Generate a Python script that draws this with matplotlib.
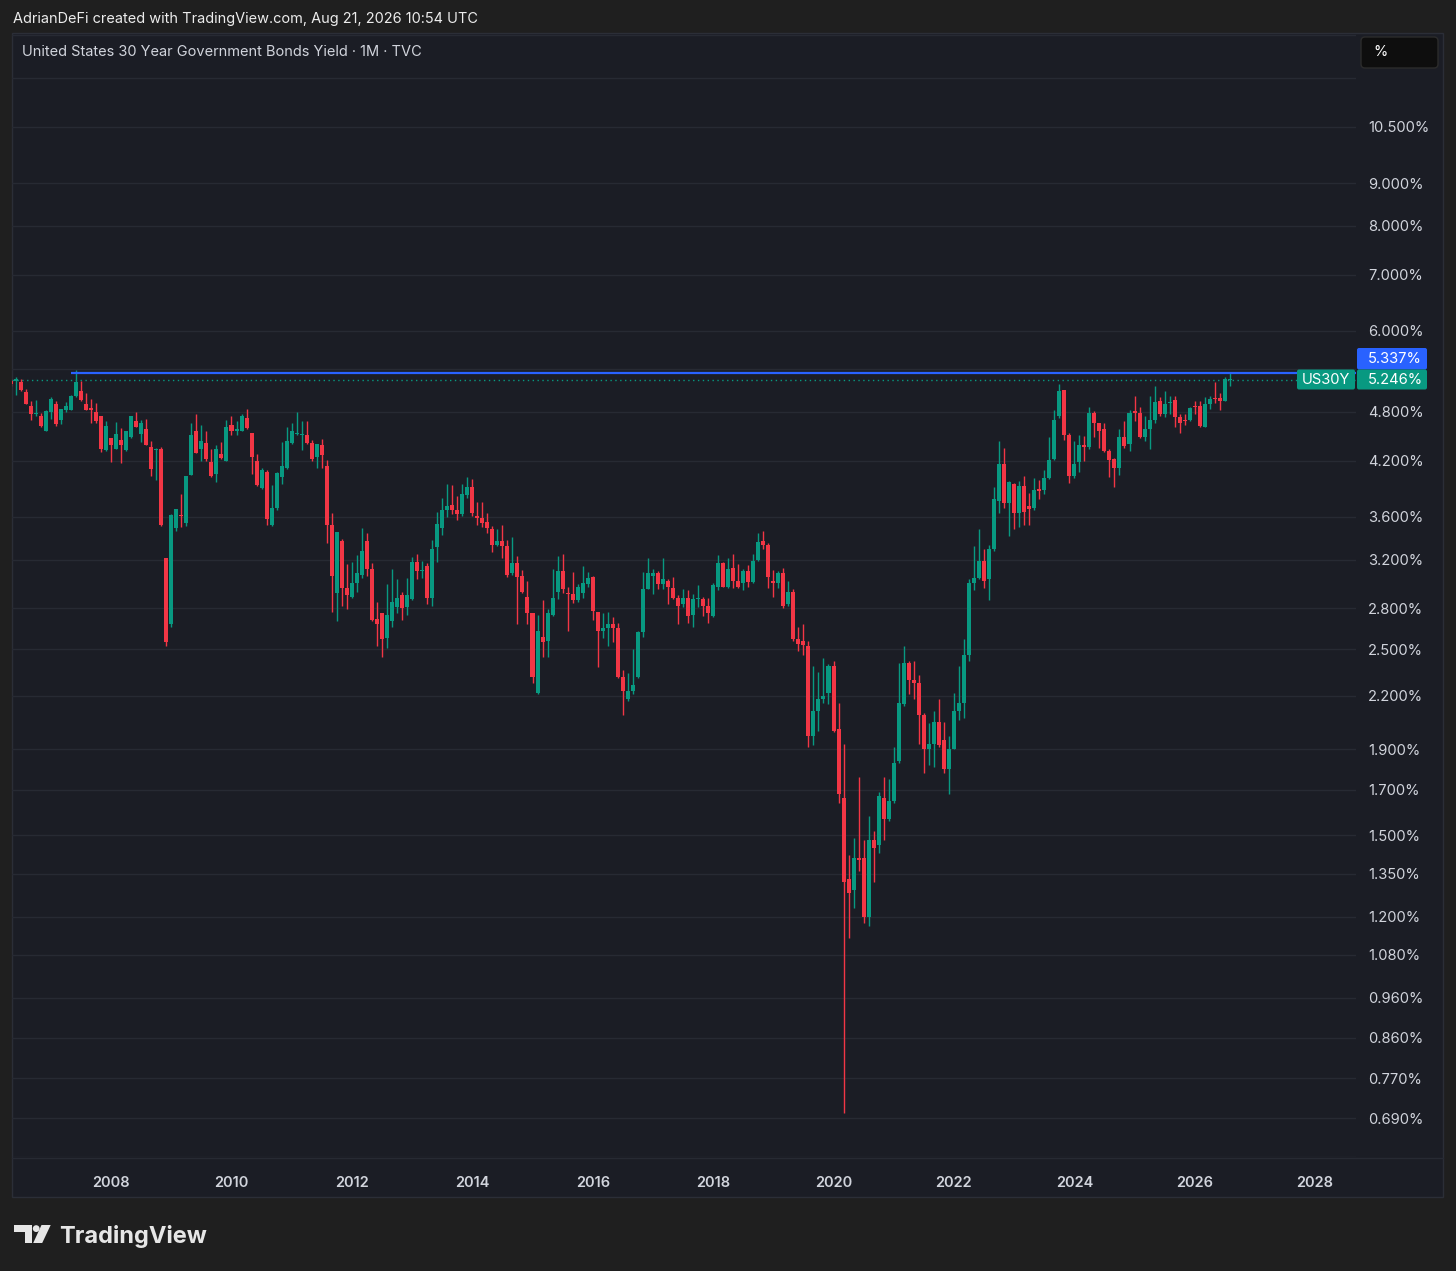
import numpy as np
import pandas as pd
import matplotlib
matplotlib.use('Agg')
import matplotlib.pyplot as plt
from matplotlib.patches import Rectangle, FancyBboxPatch, Polygon, Circle
from matplotlib.ticker import NullLocator

plt.rcParams['font.family'] = ['Inter', 'DejaVu Sans']

# monthly candles of US30Y, May 2006 .. Aug 2026 (yield, %)
first_month = '2006-05-01'
opens = [5.23, 5.23, 5.21, 5.07, 4.88, 4.77, 4.74, 4.56, 4.80, 4.91,
         4.69, 4.83, 4.82, 5.01, 5.09, 4.90, 4.85, 4.80, 4.75, 4.32,
         4.47, 4.33, 4.44, 4.32, 4.48, 4.68, 4.52, 4.58, 4.36, 4.32,
         4.33, 3.21, 2.68, 3.49, 3.62, 3.54, 4.04, 4.55, 4.34, 4.41,
         4.18, 4.05, 4.28, 4.20, 4.63, 4.56, 4.56, 4.72, 4.53, 4.19,
         3.89, 4.07, 3.52, 3.69, 4.01, 4.11, 4.41, 4.52, 4.50, 4.51,
         4.41, 4.24, 4.38, 4.14, 3.52, 2.92, 3.37, 2.96, 2.89, 3.00,
         3.07, 3.37, 3.12, 2.72, 2.76, 2.58, 2.70, 2.81, 2.90, 2.81,
         2.87, 3.18, 3.10, 3.14, 2.88, 3.31, 3.49, 3.67, 3.72, 3.67,
         3.63, 3.82, 3.91, 3.61, 3.59, 3.55, 3.48, 3.33, 3.37, 3.32,
         3.08, 3.17, 3.06, 2.89, 2.76, 2.22, 2.59, 2.56, 2.75, 2.93,
         3.10, 2.92, 2.91, 2.86, 2.92, 2.99, 3.05, 2.77, 2.63, 2.65,
         2.68, 2.65, 2.32, 2.18, 2.23, 2.32, 2.62, 2.95, 3.06, 3.08,
         2.99, 3.02, 2.96, 2.88, 2.83, 2.88, 2.75, 2.87, 2.87, 2.82,
         2.74, 2.97, 3.17, 2.97, 3.13, 3.02, 3.00, 3.10, 3.01, 3.20,
         3.37, 3.33, 3.02, 3.00, 3.08, 2.83, 2.93, 2.57, 2.56, 2.52,
         1.97, 2.11, 2.18, 2.22, 2.39, 2.01, 1.66, 1.33, 1.29, 1.41,
         1.41, 1.20, 1.48, 1.46, 1.66, 1.57, 1.65, 1.84, 2.15, 2.41,
         2.30, 2.28, 2.09, 1.90, 1.93, 2.05, 1.95, 1.80, 1.90, 2.11,
         2.16, 2.46, 3.00, 3.04, 3.19, 3.03, 3.29, 3.76, 4.16, 3.74,
         3.94, 3.64, 3.92, 3.71, 3.69, 3.88, 3.87, 4.00, 4.22, 4.75,
         5.10, 4.50, 4.02, 4.18, 4.38, 4.36, 4.79, 4.65, 4.58, 4.31,
         4.22, 4.11, 4.48, 4.39, 4.81, 4.79, 4.48, 4.58, 4.70, 4.95,
         4.77, 4.92, 4.96, 4.73, 4.69, 4.69, 4.88, 4.88, 4.60, 4.91,
         4.99, 4.98, 4.95, 5.24]
highs = [5.26, 5.28, 5.26, 5.11, 4.94, 4.96, 4.79, 4.82, 5.00, 4.94,
         4.84, 4.93, 5.03, 5.38, 5.23, 5.06, 4.97, 4.92, 4.75, 4.68,
         4.47, 4.67, 4.59, 4.56, 4.75, 4.80, 4.69, 4.71, 4.43, 4.35,
         4.36, 3.21, 3.63, 3.68, 3.83, 4.03, 4.66, 4.77, 4.63, 4.56,
         4.34, 4.38, 4.42, 4.70, 4.74, 4.68, 4.77, 4.84, 4.53, 4.28,
         4.11, 4.09, 3.93, 4.07, 4.42, 4.60, 4.65, 4.80, 4.68, 4.68,
         4.44, 4.39, 4.46, 4.21, 3.64, 3.45, 3.39, 3.16, 3.18, 3.24,
         3.49, 3.44, 3.17, 2.85, 2.76, 2.99, 3.12, 3.03, 2.93, 3.04,
         3.22, 3.25, 3.19, 3.17, 3.38, 3.65, 3.79, 3.94, 3.93, 3.81,
         3.94, 4.01, 3.99, 3.75, 3.75, 3.64, 3.51, 3.48, 3.52, 3.38,
         3.40, 3.23, 3.11, 3.02, 2.76, 2.75, 2.86, 2.79, 3.12, 3.23,
         3.25, 2.97, 3.09, 2.99, 3.14, 3.09, 3.06, 2.77, 2.76, 2.77,
         2.73, 2.69, 2.36, 2.34, 2.50, 2.63, 3.09, 3.21, 3.12, 3.10,
         3.21, 3.03, 3.05, 2.90, 2.95, 2.94, 2.91, 2.98, 2.89, 2.88,
         3.00, 3.24, 3.18, 3.21, 3.25, 3.16, 3.12, 3.15, 3.25, 3.44,
         3.46, 3.35, 3.11, 3.10, 3.13, 3.02, 2.95, 2.66, 2.68, 2.56,
         2.39, 2.35, 2.44, 2.40, 2.42, 2.16, 1.93, 1.42, 1.49, 1.76,
         1.48, 1.58, 1.52, 1.69, 1.76, 1.75, 1.91, 2.41, 2.52, 2.42,
         2.42, 2.33, 2.10, 2.04, 2.11, 2.18, 2.05, 1.97, 2.22, 2.39,
         2.57, 3.03, 3.32, 3.48, 3.29, 3.33, 3.91, 4.43, 4.35, 3.97,
         3.95, 3.97, 4.03, 3.84, 4.00, 3.98, 4.09, 4.48, 4.82, 5.18,
         5.10, 4.53, 4.43, 4.51, 4.49, 4.86, 4.81, 4.66, 4.66, 4.34,
         4.23, 4.58, 4.68, 4.83, 5.02, 4.87, 4.75, 5.02, 5.15, 5.00,
         5.08, 5.01, 5.02, 4.77, 4.77, 4.87, 4.94, 4.94, 5.00, 5.02,
         5.21, 5.06, 5.28, 5.34]
lows = [5.16, 5.03, 5.08, 4.90, 4.69, 4.74, 4.60, 4.55, 4.71, 4.62,
        4.64, 4.80, 4.82, 5.00, 4.95, 4.82, 4.65, 4.66, 4.30, 4.31,
        4.18, 4.33, 4.17, 4.31, 4.47, 4.60, 4.42, 4.38, 4.02, 3.98,
        3.51, 2.52, 2.66, 3.46, 3.50, 3.51, 4.04, 4.29, 4.19, 4.19,
        4.01, 3.96, 4.22, 4.19, 4.51, 4.51, 4.56, 4.58, 4.05, 3.92,
        3.88, 3.52, 3.51, 3.67, 3.94, 4.10, 4.40, 4.50, 4.32, 4.39,
        4.20, 4.12, 4.12, 3.35, 2.77, 2.70, 2.82, 2.79, 2.88, 2.93,
        3.04, 3.06, 2.70, 2.52, 2.45, 2.51, 2.66, 2.76, 2.71, 2.75,
        2.86, 3.03, 3.04, 2.83, 2.82, 3.18, 3.42, 3.60, 3.63, 3.57,
        3.61, 3.79, 3.61, 3.52, 3.50, 3.44, 3.27, 3.32, 3.21, 3.05,
        3.07, 2.68, 2.92, 2.68, 2.28, 2.21, 2.45, 2.45, 2.74, 2.87,
        2.92, 2.63, 2.84, 2.85, 2.88, 2.97, 2.71, 2.38, 2.58, 2.52,
        2.55, 2.31, 2.09, 2.17, 2.21, 2.31, 2.59, 2.95, 2.91, 2.95,
        2.95, 2.83, 2.87, 2.68, 2.81, 2.69, 2.66, 2.81, 2.74, 2.69,
        2.73, 2.94, 2.97, 2.96, 2.96, 2.96, 2.94, 2.97, 3.00, 3.19,
        3.29, 2.96, 2.89, 2.96, 2.80, 2.82, 2.56, 2.49, 2.46, 1.91,
        1.92, 2.00, 2.16, 2.15, 1.99, 1.64, 0.70, 1.13, 1.23, 1.36,
        1.18, 1.17, 1.32, 1.43, 1.48, 1.56, 1.64, 1.83, 2.14, 2.21,
        2.18, 1.93, 1.78, 1.82, 1.81, 1.91, 1.78, 1.68, 1.90, 2.06,
        2.07, 2.42, 2.94, 3.03, 2.96, 2.86, 3.28, 3.64, 3.69, 3.41,
        3.48, 3.50, 3.52, 3.52, 3.67, 3.78, 3.83, 3.99, 4.21, 4.72,
        4.44, 3.95, 4.00, 4.07, 4.19, 4.34, 4.48, 4.35, 4.30, 4.01,
        3.91, 4.04, 4.35, 4.31, 4.68, 4.47, 4.43, 4.34, 4.66, 4.75,
        4.73, 4.77, 4.61, 4.53, 4.63, 4.68, 4.77, 4.61, 4.60, 4.84,
        4.92, 4.83, 4.94, 5.15]
closes = [5.18, 5.25, 5.10, 4.91, 4.77, 4.79, 4.62, 4.81, 4.97, 4.64,
          4.84, 4.88, 5.01, 5.21, 4.96, 4.83, 4.83, 4.68, 4.34, 4.62,
          4.38, 4.52, 4.38, 4.56, 4.75, 4.60, 4.65, 4.38, 4.10, 4.34,
          3.52, 2.55, 3.62, 3.68, 3.61, 4.03, 4.50, 4.29, 4.43, 4.22,
          4.02, 4.34, 4.23, 4.61, 4.56, 4.58, 4.75, 4.59, 4.24, 3.93,
          4.09, 3.58, 3.69, 4.06, 4.14, 4.43, 4.56, 4.53, 4.52, 4.41,
          4.22, 4.39, 4.26, 3.52, 3.06, 3.45, 2.96, 2.90, 3.00, 3.08,
          3.28, 3.12, 2.71, 2.68, 2.57, 2.75, 2.85, 2.88, 2.80, 2.90,
          3.18, 3.10, 3.11, 2.88, 3.29, 3.53, 3.67, 3.71, 3.67, 3.63,
          3.83, 3.91, 3.64, 3.59, 3.54, 3.49, 3.33, 3.37, 3.32, 3.07,
          3.17, 3.05, 2.93, 2.76, 2.32, 2.63, 2.55, 2.76, 2.88, 3.10,
          2.95, 2.91, 2.86, 2.97, 3.00, 3.04, 2.78, 2.63, 2.65, 2.68,
          2.65, 2.32, 2.23, 2.23, 2.27, 2.62, 2.95, 3.08, 3.08, 2.99,
          3.03, 2.97, 2.88, 2.82, 2.88, 2.74, 2.87, 2.88, 2.82, 2.76,
          2.98, 3.17, 2.97, 3.12, 3.02, 2.97, 3.10, 3.01, 3.19, 3.36,
          3.33, 3.05, 3.00, 3.08, 2.82, 2.93, 2.57, 2.54, 2.53, 1.97,
          2.11, 2.18, 2.20, 2.39, 2.00, 1.68, 1.32, 1.28, 1.41, 1.40,
          1.20, 1.48, 1.45, 1.67, 1.57, 1.65, 1.83, 2.16, 2.41, 2.30,
          2.28, 2.09, 1.90, 1.93, 2.05, 1.92, 1.80, 1.90, 2.11, 2.16,
          2.46, 3.00, 3.04, 3.19, 3.02, 3.29, 3.78, 4.16, 3.74, 3.96,
          3.64, 3.92, 3.65, 3.68, 3.87, 3.86, 4.00, 4.21, 4.70, 5.09,
          4.51, 4.02, 4.16, 4.38, 4.36, 4.79, 4.65, 4.56, 4.31, 4.21,
          4.11, 4.48, 4.37, 4.79, 4.79, 4.48, 4.58, 4.69, 4.93, 4.77,
          4.91, 4.93, 4.73, 4.66, 4.68, 4.85, 4.87, 4.62, 4.91, 4.97,
          4.97, 4.95, 5.26, 5.246]

grid_levels = [0.62, 0.69, 0.77, 0.86, 0.96, 1.08, 1.2, 1.35, 1.5, 1.7, 1.9,
               2.2, 2.5, 2.8, 3.2, 3.6, 4.2, 4.8, 5.4, 6.0, 7.0, 8.0, 9.0,
               10.5, 12.0, 13.5]
hidden_labels = [0.62, 5.4, 12.0, 13.5]
year_ticks = list(range(2008, 2029, 2))
level_line = 5.337
level_line_from = '2007-05-01'
last_price = 5.246
symbol = 'US30Y'

UP = '#089981'
DOWN = '#f23645'
BLUE = '#2962ff'
TXT = '#d1d4dc'
GRID = '#272a33'

W, H = 1456, 1271
fig = plt.figure(figsize=(W / 100, H / 100), dpi=100)
fig.patch.set_facecolor('#1f1f1f')

# pixel space overlay for the frame, header and badges
bg = fig.add_axes([0, 0, 1, 1], zorder=0)
bg.set_xlim(0, W)
bg.set_ylim(H, 0)
bg.axis('off')
bg.add_patch(Rectangle((12, 33), 1431, 1164, facecolor='#1b1d25', edgecolor='#2b2e37', lw=1))
bg.plot([12, 1443], [1157.5, 1157.5], color=GRID, lw=1)

# main chart axes
ax = fig.add_axes([12 / W, 1 - 1157 / H, 1344 / W, 1124 / H], zorder=1)
ax.set_facecolor('none')
for s in ax.spines.values():
    s.set_visible(False)

dates = pd.date_range(first_month, periods=len(closes), freq='MS')
x = dates.year + (dates.month - 1) / 12.0
o = np.array(opens)
c = np.array(closes)
hi = np.array(highs)
lo = np.array(lows)
cols = np.where(c >= o, UP, DOWN)

ax.set_yscale('log')
ax.set_ylim(0.6218, 13.59)
ax.set_xlim(2006.354, 2028.679)

for g in grid_levels:
    ax.axhline(g, color=GRID, lw=1, zorder=0)

ax.vlines(x, lo, hi, colors=cols, lw=1.0, zorder=2)
bottoms = np.minimum(o, c)
tops = np.maximum(np.maximum(o, c), bottoms * 1.003)
ax.bar(x, tops - bottoms, bottom=bottoms, width=0.8 / 12, color=cols, lw=0, zorder=3)

# horizontal level and last price line
ts = pd.Timestamp(level_line_from)
ax.hlines(level_line, ts.year + (ts.month - 1) / 12.0, 2028.679, color=BLUE, lw=1.6, zorder=4)
ax.axhline(last_price, color=UP, lw=1.0, ls=(0, (1, 2.5)), zorder=1)

# axes ticks
ax.yaxis.tick_right()
ax.yaxis.set_minor_locator(NullLocator())
ax.set_yticks(grid_levels)
ax.set_yticklabels(['' if g in hidden_labels else f'{g:.3f}%' for g in grid_levels])
ax.tick_params(axis='y', length=0, pad=8.6, labelsize=10.6, labelcolor=TXT)
ax.xaxis.set_minor_locator(NullLocator())
ax.set_xticks(year_ticks)
ax.set_xticklabels([str(v) for v in year_ticks], fontweight='semibold')
ax.tick_params(axis='x', length=0, pad=13.5, labelsize=10.5, labelcolor=TXT)

# header texts
bg.text(13, 19, 'AdrianDeFi created with TradingView.com, Aug 21, 2026 10:54 UTC',
        color='#ececec', fontsize=10.45, va='center', ha='left')
bg.text(22, 52.5, 'United States 30 Year Government Bonds Yield \u00b7 1M \u00b7 TVC',
        color=TXT, fontsize=10.5, va='center', ha='left')

# % button
bg.add_patch(FancyBboxPatch((1361, 37), 77, 31, boxstyle='round,pad=0,rounding_size=4',
                            facecolor='#0e0e0e', edgecolor='#2c2c2c', lw=1, zorder=5))
bg.text(1373, 52.5, '%', color='#ffffff', fontsize=10.5, va='center', ha='left', zorder=6)

# price badges
fig_top = fig.add_axes([0, 0, 1, 1], zorder=3)
fig_top.set_xlim(0, W)
fig_top.set_ylim(H, 0)
fig_top.axis('off')
fig_top.add_patch(FancyBboxPatch((1357, 348), 70, 21.5, boxstyle='round,pad=0,rounding_size=2',
                                 facecolor=BLUE, lw=0))
fig_top.text(1368, 359, f'{level_line:.3f}%', color='white', fontsize=10.6, va='center', ha='left')
fig_top.add_patch(FancyBboxPatch((1357, 369.5), 70, 20, boxstyle='round,pad=0,rounding_size=2',
                                 facecolor=UP, lw=0))
fig_top.text(1368, 379.5, f'{last_price:.3f}%', color='white', fontsize=10.6, va='center', ha='left')
fig_top.add_patch(FancyBboxPatch((1297, 369.5), 58, 20, boxstyle='round,pad=0,rounding_size=2',
                                 facecolor=UP, lw=0))
fig_top.text(1326, 379.5, symbol, color='white', fontsize=10.6, va='center', ha='center')

# TradingView logo
logo = '#e6e6e6'
bg.add_patch(Polygon([(14, 1225), (31.7, 1225), (31.7, 1243), (24.5, 1243),
                      (24.5, 1231.5), (14, 1231.5)], closed=True, facecolor=logo, lw=0))
bg.add_patch(Circle((36.2, 1228.6), 3.4, facecolor=logo, lw=0))
bg.add_patch(Polygon([(41.5, 1225), (50.7, 1225), (42.2, 1243), (33.2, 1243)],
                     closed=True, facecolor=logo, lw=0))
bg.text(59, 1243, 'TradingView', color=logo, fontsize=17, fontweight='bold',
        va='baseline', ha='left')

fig.savefig('out.png', dpi=100, facecolor=fig.get_facecolor())
